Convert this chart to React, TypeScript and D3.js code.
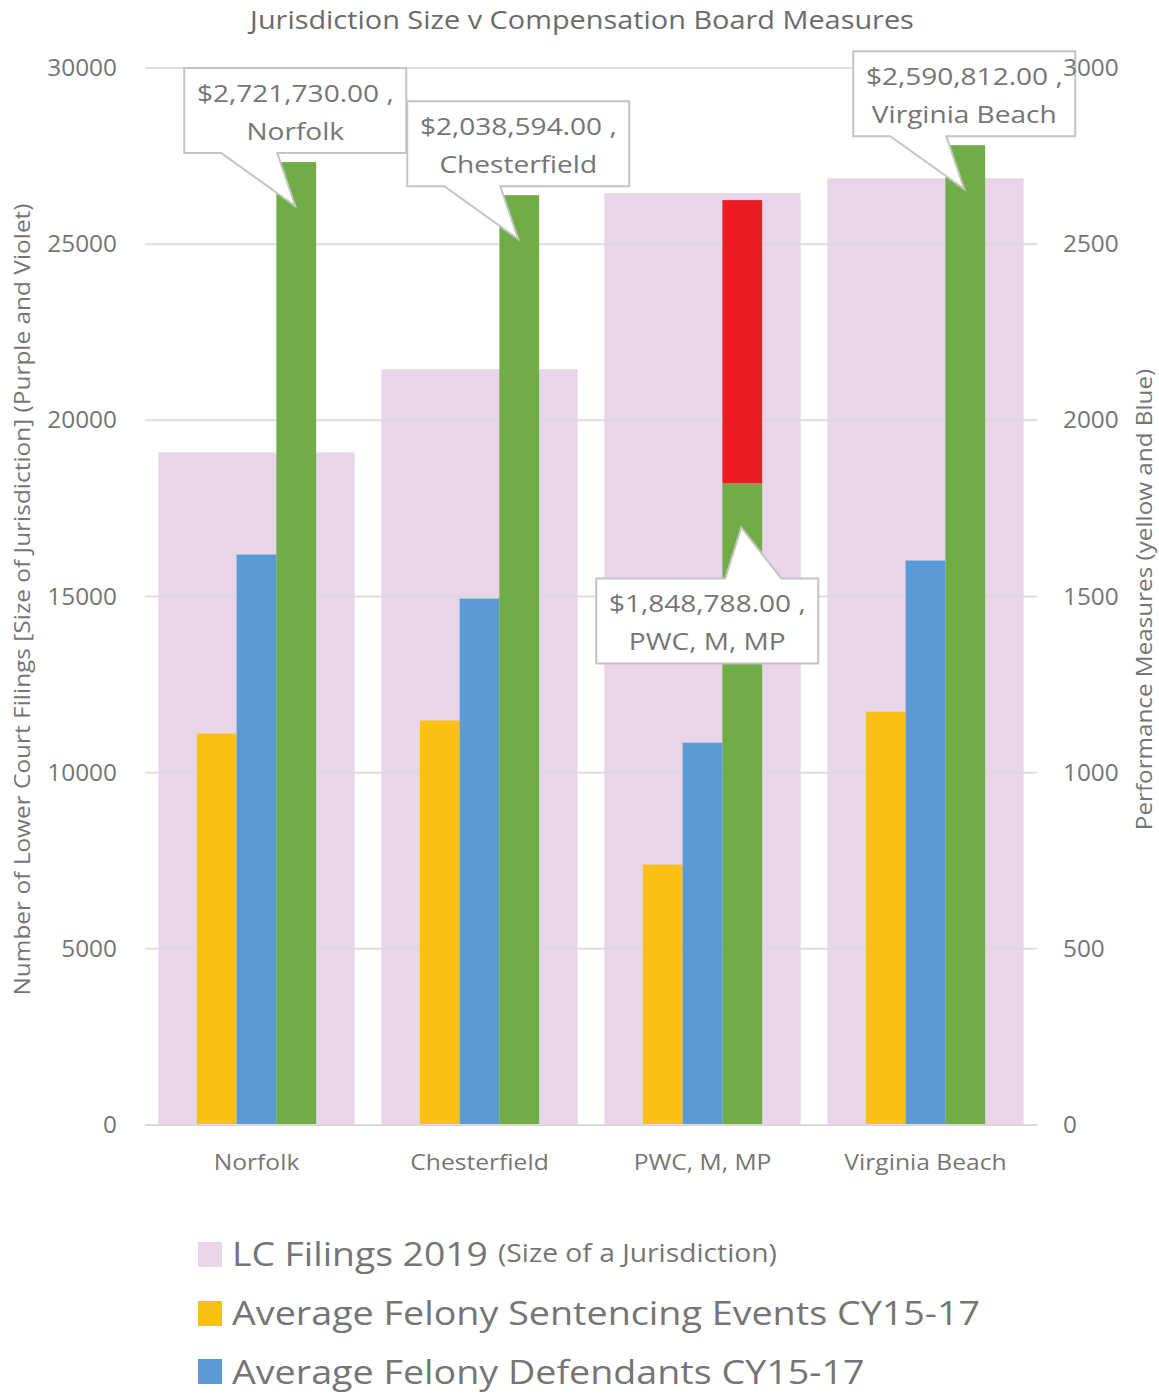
import type { ReactNode, SVGProps } from 'react';
import * as d3 from 'd3';

const categories = ['Norfolk', 'Chesterfield', 'PWC, M, MP', 'Virginia Beach'];
// primary axis (left)
const lcFilings = [19090, 21450, 26450, 26870];
// secondary axis (right)
const sentencingEvents = [1111, 1148, 739, 1173];
const felonyDefendants = [1619, 1494, 1085, 1602];
const compensation = [2733, 2639, 1821, 2781];
const compensationExtra = [0, 0, 804, 0];

const calloutAmounts = ['$2,721,730.00 ,', '$2,038,594.00 ,', '$1,848,788.00 ,', '$2,590,812.00 ,'];
const calloutPlacement = ['above', 'above', 'below', 'above'];
const calloutShift = [0, 0, -34, 0];

const W = 1159;
const H = 1394;
const margin = { top: 68, right: 122, bottom: 269, left: 145 };
const FONT = '"Open Sans", "Liberation Sans", sans-serif';
const TEXT = '#757575';
const GRID = '#d9d9d9';

const colors = {
  lc: 'rgba(211,171,211,0.5)',
  lcSwatch: '#e9d5e9',
  yellow: '#fbc014',
  blue: '#5b9bd5',
  green: '#70ad47',
  red: '#ed1c24',
};

// Open Sans is narrower than the original's font, so stretch text horizontally.
type STextProps = SVGProps<SVGTextElement> & { x: number; y: number; k?: number; rot?: number; children: ReactNode };
function SText({ x, y, k = 1.15, rot, children, ...rest }: STextProps) {
  return (
    <text transform={`translate(${x},${y})${rot ? ` rotate(${rot})` : ''} scale(${k},1)`} {...rest}>
      {children}
    </text>
  );
}

export default function App() {
  const x0 = d3.scaleBand<string>()
    .domain(categories)
    .range([margin.left, W - margin.right])
    .paddingInner(0.12)
    .paddingOuter(0.06);
  const clusterW = x0.step() * 0.535;
  const x1 = d3.scaleBand<string>()
    .domain(['yellow', 'blue', 'green'])
    .range([-clusterW / 2, clusterW / 2]);
  const yLeft = d3.scaleLinear().domain([0, 30000]).range([H - margin.bottom, margin.top]);
  const yRight = d3.scaleLinear().domain([0, 3000]).range([H - margin.bottom, margin.top]);

  const center = (c: string) => (x0(c) ?? 0) + x0.bandwidth() / 2;
  const leftTicks = yLeft.ticks(6);
  const rightTicks = yRight.ticks(6);
  const midY = (margin.top + H - margin.bottom) / 2 + 3;

  const stacked = d3.stack<number>()
    .keys(['green', 'red'])
    .value((i, key) => (key === 'green' ? compensation[i] : compensationExtra[i]))(categories.map((_, i) => i));

  const boxW = 222;
  const boxH = 85;
  const gap = 53;

  return (
    <svg width={W} height={H} style={{ display: 'block', fontFamily: FONT }}>
      <style>{'body{margin:0}'}</style>
      <rect width={W} height={H} fill="#fff" />
      <SText x={582} y={29} k={1.155} textAnchor="middle" fontSize={25} fill="#6b6b6b">
        Jurisdiction Size v Compensation Board Measures
      </SText>

      {/* LC filings (wide translucent bars) */}
      {categories.map((c, i) => (
        <rect key={`lc-${c}`} x={x0(c)} width={x0.bandwidth()} y={yLeft(lcFilings[i])}
          height={yLeft(0) - yLeft(lcFilings[i])} fill={colors.lc} />
      ))}

      {/* gridlines */}
      {leftTicks.filter((t) => t > 0).map((t) => (
        <line key={`g-${t}`} x1={margin.left} x2={W - margin.right} y1={yLeft(t)} y2={yLeft(t)}
          stroke={GRID} strokeWidth={2} opacity={0.85} />
      ))}

      {/* secondary bars */}
      {categories.map((c, i) => (
        <g key={`sec-${c}`}>
          <rect x={center(c) + (x1('yellow') ?? 0)} width={x1.bandwidth()} y={yRight(sentencingEvents[i])}
            height={yRight(0) - yRight(sentencingEvents[i])} fill={colors.yellow} />
          <rect x={center(c) + (x1('blue') ?? 0)} width={x1.bandwidth()} y={yRight(felonyDefendants[i])}
            height={yRight(0) - yRight(felonyDefendants[i])} fill={colors.blue} />
        </g>
      ))}
      {stacked.map((layer) =>
        layer.map((d, i) => (d[1] - d[0] > 0 ? (
          <rect key={`${layer.key}-${i}`} x={center(categories[i]) + (x1('green') ?? 0)} width={x1.bandwidth()}
            y={yRight(d[1])} height={yRight(d[0]) - yRight(d[1])}
            fill={layer.key === 'green' ? colors.green : colors.red} />
        ) : null)),
      )}

      {/* axis line */}
      <line x1={margin.left} x2={W - margin.right} y1={yLeft(0)} y2={yLeft(0)} stroke={GRID} strokeWidth={2} />

      {/* callouts */}
      {categories.map((c, i) => {
        const tipX = center(c) + (x1('green') ?? 0) + x1.bandwidth() / 2 - 1;
        const tipY = yRight(compensation[i]) + 44;
        const cx = tipX + calloutShift[i];
        const left = cx - boxW / 2;
        const right = cx + boxW / 2;
        let path: string;
        let top: number;
        if (calloutPlacement[i] === 'above') {
          const bottom = tipY - gap;
          top = bottom - boxH;
          path = `M${left},${top}H${right}V${bottom}H${cx - 18}L${tipX},${tipY}L${cx - 74},${bottom}H${left}Z`;
        } else {
          top = tipY + gap - 2;
          const bottom = top + boxH;
          path = `M${left},${top}H${cx + 18}L${tipX},${tipY}L${cx + 74},${top}H${right}V${bottom}H${left}Z`;
        }
        return (
          <g key={`co-${c}`}>
            <path d={path} fill="#fff" stroke="#c4c4c4" strokeWidth={2} />
            <SText x={cx} y={top + 34} k={1.145} textAnchor="middle" fontSize={24.5} fill={TEXT}>{calloutAmounts[i]}</SText>
            <SText x={cx} y={top + 72} k={1.145} textAnchor="middle" fontSize={24.5} fill={TEXT}>{c}</SText>
          </g>
        );
      })}

      {/* ticks */}
      {leftTicks.map((t) => (
        <SText key={`l-${t}`} x={117} y={yLeft(t)} k={1.06} dy="0.35em" textAnchor="end" fontSize={23} fill={TEXT}>{t}</SText>
      ))}
      {rightTicks.map((t) => (
        <SText key={`r-${t}`} x={1063} y={yRight(t)} k={1.06} dy="0.35em" textAnchor="start" fontSize={23} fill={TEXT}>{t}</SText>
      ))}

      {/* category labels */}
      {categories.map((c) => (
        <SText key={`c-${c}`} x={center(c)} y={1170} k={1.12} textAnchor="middle" fontSize={22} fill={TEXT}>{c}</SText>
      ))}

      {/* axis titles */}
      <SText x={30} y={midY} rot={-90} k={1.163} textAnchor="middle" fontSize={21} fill={TEXT}>
        Number of Lower Court Filings [Size of Jurisdiction] (Purple and Violet)
      </SText>
      <SText x={1152} y={midY} rot={-90} k={1.155} textAnchor="middle" fontSize={21} fill={TEXT}>
        Performance Measures (yellow and Blue)
      </SText>

      {/* legend */}
      <g>
        <rect x={198} y={1242} width={24} height={25} fill={colors.lcSwatch} />
        <SText x={232} y={1266} k={1.165} fontSize={32} fill={TEXT}>LC Filings 2019</SText>
        <SText x={498} y={1262} k={1.13} fontSize={25} fill={TEXT}>(Size of a Jurisdiction)</SText>
        <rect x={198} y={1301} width={24} height={25} fill={colors.yellow} />
        <SText x={232} y={1325} k={1.178} fontSize={32} fill={TEXT}>Average Felony Sentencing Events CY15-17</SText>
        <rect x={198} y={1359} width={24} height={25} fill={colors.blue} />
        <SText x={232} y={1384} k={1.177} fontSize={32} fill={TEXT}>Average Felony Defendants CY15-17</SText>
      </g>
    </svg>
  );
}
